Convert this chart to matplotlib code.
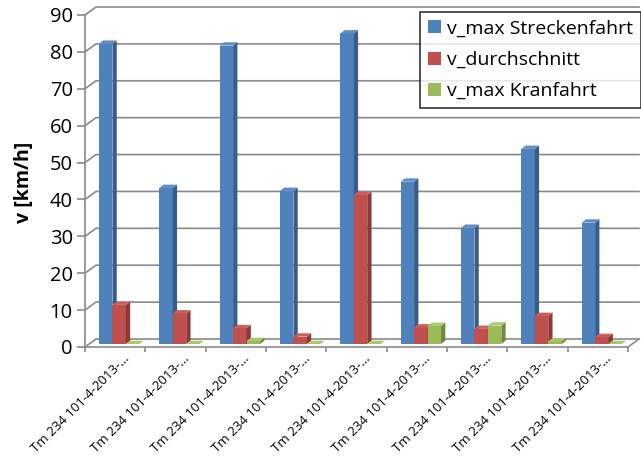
import matplotlib
matplotlib.use("Agg")
import matplotlib.pyplot as plt
import matplotlib.transforms as mtransforms
from matplotlib.collections import PolyCollection
from matplotlib.patches import Patch

plt.rcParams["font.family"] = ["Open Sans", "DejaVu Sans"]

CATEGORIES = ["Tm 234 101-4-2013-..."] * 9
SERIES = ["v_max Streckenfahrt", "v_durchschnitt", "v_max Kranfahrt"]
V_MAX_STRECKE = [81.4, 42.3, 80.9, 41.5, 84.2, 44.0, 31.5, 52.9, 32.9]
V_DURCHSCHNITT = [10.6, 8.3, 4.3, 2.0, 40.4, 4.5, 4.1, 7.6, 1.9]
V_MAX_KRAN = [0.0, 0.0, 0.8, 0.0, 0.0, 4.9, 5.0, 0.7, 0.0]
Y_TICKS = list(range(0, 91, 10))

FRONT = ["#4F81BD", "#C0504D", "#9BBB59"]
SIDE = ["#385D8A", "#8C3A38", "#71893F"]
TOP = ["#5C8DC9", "#CC5F5C", "#A8C86A"]
GRID = "#8A8A8A"

W, H = 641, 459
fig = plt.figure(figsize=(W / 100, H / 100), dpi=100)
# front plane of the 3d box: x 85..628 px, y 15..347 px
L, R, T, B = 85, 628, 15, 347
ax = fig.add_axes([L / W, 1 - B / H, (R - L) / W, (B - T) / H])
ax.set_xlim(-0.5, len(CATEGORIES) - 0.5)
ax.set_ylim(0, 90)
ax.set_facecolor("none")

# pixel offsets -> data units
sx = len(CATEGORIES) / (R - L)
sy = 90 / (B - T)


def px(dx, dy):
    return dx * sx, dy * sy


wx, wy = px(11, 8)      # depth of the walls
bx, by = px(4, 3)       # bars sit a bit behind the front plane
dx, dy = px(4.3, 3.3)   # depth of one bar
bw = 0.223
x_lo, x_hi = -0.5, len(CATEGORIES) - 0.5

# back wall + left wall gridlines
for v in Y_TICKS:
    ax.plot([x_lo, x_lo + wx, x_hi + wx], [v, v + wy, v + wy],
            color=GRID, lw=1.2, clip_on=False, zorder=1)
# floor right edge
ax.plot([x_hi, x_hi + wx], [0, wy], color=GRID, lw=1.2, clip_on=False, zorder=1)

values = [V_MAX_STRECKE, V_DURCHSCHNITT, V_MAX_KRAN]
for s, vals in enumerate(values):
    z = 3 + s
    lefts = [i + (s - 1) * bw - bw / 2 + bx for i in range(len(vals))]
    ax.bar(lefts, vals, width=bw, bottom=by, align="edge",
           color=FRONT[s], linewidth=0, zorder=z, clip_on=False)
    sides, tops = [], []
    for x0, v in zip(lefts, vals):
        x1 = x0 + bw
        y0, y1 = by, by + v
        sides.append([(x1, y0), (x1, y1), (x1 + dx, y1 + dy), (x1 + dx, y0 + dy)])
        tops.append([(x0, y1), (x1, y1), (x1 + dx, y1 + dy), (x0 + dx, y1 + dy)])
    ax.add_collection(PolyCollection(sides, facecolors=SIDE[s], linewidths=0,
                                     zorder=z, clip_on=False))
    ax.add_collection(PolyCollection(tops, facecolors=TOP[s], linewidths=0,
                                     zorder=z, clip_on=False))

for side in ("top", "right"):
    ax.spines[side].set_visible(False)
for side in ("left", "bottom"):
    ax.spines[side].set_color(GRID)
    ax.spines[side].set_linewidth(1.2)

ax.set_yticks(Y_TICKS)
ax.tick_params(axis="y", length=5.8, width=1.2, color=GRID, labelsize=14.5, pad=3)

ax.set_xticks([i + 0.5 for i in range(-1, len(CATEGORIES))], minor=True)
ax.set_xticks(range(len(CATEGORIES)))
ax.set_xticklabels(CATEGORIES, rotation=45, ha="right", va="center",
                   rotation_mode="anchor", fontsize=9.5)
ax.tick_params(axis="x", which="major", length=0, pad=7)
ax.tick_params(axis="x", which="minor", length=3.6, width=1.2, color=GRID)
shift = mtransforms.ScaledTranslation(12 / 100, 0, fig.dpi_scale_trans)
for lab in ax.get_xticklabels():
    lab.set_transform(lab.get_transform() + shift)

fig.text(24 / W, 1 - 182 / H, "v [km/h]", rotation=90, ha="center", va="center",
         fontsize=14, fontweight="bold")

handles = [Patch(facecolor=c, edgecolor="none") for c in FRONT]
leg = fig.legend(handles, SERIES, loc="upper right",
                 bbox_to_anchor=(640.5 / W, 1 - 12 / H), bbox_transform=fig.transFigure,
                 fontsize=14, frameon=True, fancybox=False, edgecolor="black",
                 borderaxespad=0, handlelength=0.65, handleheight=0.65,
                 handletextpad=0.3, borderpad=0.4, labelspacing=0.68)
leg.get_frame().set_linewidth(1.2)

fig.savefig("out.png", dpi=100)
